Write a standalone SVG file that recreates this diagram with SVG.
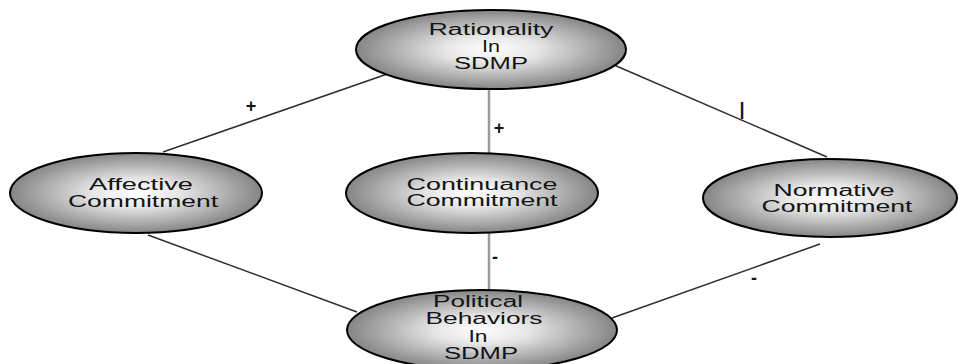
<svg xmlns="http://www.w3.org/2000/svg" width="961" height="364" viewBox="0 0 961 364">
<defs>
<radialGradient id="g" cx="50%" cy="50%" r="50%">
<stop offset="0" stop-color="#ffffff"/>
<stop offset="0.35" stop-color="#e6e6e6"/>
<stop offset="1" stop-color="#858585"/>
</radialGradient>
<style>
.n{fill:url(#g);stroke:#000;stroke-width:2}
.t{font-family:"Liberation Sans",Arial,sans-serif;font-size:16px;fill:#141414;text-anchor:middle}
.c{stroke:#2e2e2e;stroke-width:1.5;fill:none}
.v{stroke:#9a9a9a;stroke-width:2.5;fill:none}
.l{font-family:"Liberation Sans",Arial,sans-serif;font-size:18px;fill:#141414;text-anchor:middle;font-weight:bold}
</style>
</defs>
<rect width="961" height="364" fill="#fff"/>
<g id="connectors">
<line class="c" x1="393" y1="72" x2="163" y2="152"/>
<line class="c" x1="614" y1="65" x2="827" y2="157"/>
<line class="v" x1="489" y1="88" x2="489" y2="154"/>
<line class="v" x1="489" y1="232" x2="489" y2="291"/>
<line class="c" x1="148" y1="235" x2="357" y2="312"/>
<line class="c" x1="820" y1="244" x2="612" y2="318"/>
<text class="l" x="251" y="112">+</text>
<text class="l" x="742" y="115" font-weight="normal" font-size="11">|</text>
<text class="l" x="499" y="134">+</text>
<text class="l" x="495" y="263" font-weight="normal">-</text>
<text class="l" x="754" y="284" font-weight="normal" font-size="13">-</text>
</g>
<g id="rationality">
<ellipse class="n" cx="491" cy="49.5" rx="135" ry="39.5"/>
<text class="t" x="491" y="35" textLength="125" lengthAdjust="spacingAndGlyphs">Rationality</text>
<text class="t" x="491" y="52" textLength="18" lengthAdjust="spacingAndGlyphs">In</text>
<text class="t" x="491" y="69" textLength="74" lengthAdjust="spacingAndGlyphs">SDMP</text>
</g>
<g id="affective">
<ellipse class="n" cx="136" cy="193" rx="126" ry="40"/>
<text class="t" x="141" y="190" textLength="104" lengthAdjust="spacingAndGlyphs">Affective</text>
<text class="t" x="143" y="207" textLength="150" lengthAdjust="spacingAndGlyphs">Commitment</text>
</g>
<g id="continuance">
<ellipse class="n" cx="472" cy="193" rx="126" ry="40"/>
<text class="t" x="482" y="190" font-size="15" textLength="151" lengthAdjust="spacingAndGlyphs">Continuance</text>
<text class="t" x="482" y="206" font-size="15" textLength="151" lengthAdjust="spacingAndGlyphs">Commitment</text>
</g>
<g id="normative">
<ellipse class="n" cx="830" cy="198" rx="127" ry="39"/>
<text class="t" x="834" y="196" textLength="121" lengthAdjust="spacingAndGlyphs">Normative</text>
<text class="t" x="837" y="212" textLength="151" lengthAdjust="spacingAndGlyphs">Commitment</text>
</g>
<g id="political">
<ellipse class="n" cx="482" cy="330" rx="135" ry="40"/>
<text class="t" x="478" y="307" textLength="90" lengthAdjust="spacingAndGlyphs">Political</text>
<text class="t" x="484" y="324" textLength="117" lengthAdjust="spacingAndGlyphs">Behaviors</text>
<text class="t" x="478" y="342" textLength="19" lengthAdjust="spacingAndGlyphs">In</text>
<text class="t" x="481" y="359" textLength="74" lengthAdjust="spacingAndGlyphs">SDMP</text>
</g>
</svg>
